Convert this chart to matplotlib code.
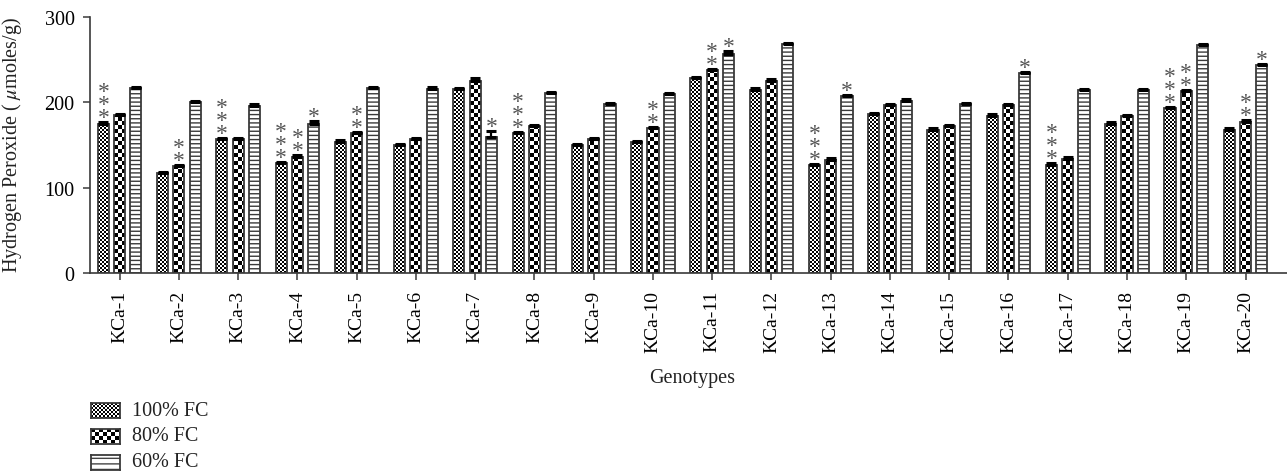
import numpy as np
import matplotlib
matplotlib.use("Agg")
import matplotlib.pyplot as plt
from matplotlib.path import Path
from matplotlib.patches import Rectangle

plt.rcParams['font.family'] = ['Liberation Serif', 'DejaVu Serif']
plt.rcParams['mathtext.fontset'] = 'stix'

# ---------------- data ----------------
genotypes = ["KCa-%d" % i for i in range(1, 21)]
series_labels = ["100% FC", "80% FC", "60% FC"]

fc100 = [175, 117, 157, 129, 154, 150, 215.5, 164, 150, 153,
         228, 215, 126, 186, 168, 184.5, 127, 175, 193.5, 168]
fc80 = [185, 125, 157, 136.5, 164, 157, 225, 172.5, 157, 170,
        238, 225.5, 133, 196.5, 172.5, 196.5, 134, 183.5, 213, 177.5]
fc60 = [216.5, 200, 196, 175, 216.5, 216, 159, 210.5, 198, 209.5,
        257, 268.5, 207, 202, 198, 234, 214.5, 214.5, 267, 243.5]

err100 = [1.5] * 20
err80 = [1.5, 1.5, 1.5, 1.5, 1.5, 1.5, 4, 1.5, 1.5, 1.5,
         1.5, 1.5, 1.5, 1.5, 1.5, 1.5, 1.5, 1.5, 1.5, 1.5]
err60 = [1.5, 1.5, 2.5, 3, 1.5, 1.5, 7, 1.5, 1.5, 1.5,
         3.5, 1.5, 2, 1.5, 1.5, 2, 1.5, 1.5, 1.5, 1.5]

stars100 = [3, 0, 3, 3, 0, 0, 0, 3, 0, 0, 0, 0, 3, 0, 0, 0, 3, 0, 3, 0]
stars80 = [0, 2, 0, 2, 2, 0, 0, 0, 0, 2, 2, 0, 0, 0, 0, 0, 0, 0, 2, 2]
stars60 = [0, 0, 0, 1, 0, 0, 1, 0, 0, 0, 1, 0, 1, 0, 0, 1, 0, 0, 0, 1]

# ---------------- figure ----------------
W, H = 1287, 477
fig = plt.figure(figsize=(W / 100, H / 100), dpi=100)
ax_l, ax_r, ax_b, ax_t = 90, 1287, 274, 18
ax = fig.add_axes([ax_l / W, 1 - ax_b / H, (ax_r - ax_l) / W, (ax_b - ax_t) / H])

x = np.arange(len(genotypes))
pitch = 0.275
width = 0.188
edge = '#3a3a3a'
xlim = (-0.5, 19.7)
ylim = (0, 300)
ax.set_xlim(*xlim)
ax.set_ylim(*ylim)

series = [fc100, fc80, fc60]
errs = [err100, err80, err60]
stars = [stars100, stars80, stars60]
cells = [2, 4, None]

axw_px = ax_r - ax_l
axh_px = ax_b - ax_t

for i, (vals, err, st, cell) in enumerate(zip(series, errs, stars, cells)):
    xs = x + (i - 1) * pitch
    hatch = '----' if cell is None else None
    bars = ax.bar(xs, vals, width, facecolor='none' if cell else 'white',
                  edgecolor=edge, linewidth=1.3, hatch=hatch, zorder=3)
    if cell:
        # checkerboard fill clipped to the bars
        yy, xx = np.mgrid[0:axh_px, 0:axw_px]
        img = ((yy // cell + xx // cell) % 2).astype(float)
        im = ax.imshow(img, extent=(xlim[0], xlim[1], ylim[0], ylim[1]),
                       cmap='gray', vmin=0, vmax=1, interpolation='nearest',
                       aspect='auto', origin='upper', zorder=2)
        paths = []
        for p in bars.patches:
            x0, y0, w, h = p.get_x(), p.get_y(), p.get_width(), p.get_height()
            paths.append(Path([(x0, y0), (x0 + w, y0), (x0 + w, y0 + h),
                               (x0, y0 + h), (x0, y0)],
                              [Path.MOVETO, Path.LINETO, Path.LINETO,
                               Path.LINETO, Path.CLOSEPOLY]))
        im.set_clip_path(Path.make_compound_path(*paths), ax.transData)
    ax.errorbar(xs, vals, yerr=[np.zeros(len(vals)), err], fmt='none',
                ecolor='black', elinewidth=1.6, capsize=3.5, capthick=2.2,
                zorder=4)
    for xi, v, e, n in zip(xs, vals, err, st):
        if n:
            ax.annotate("\n".join(['*'] * n), xy=(xi, v + e), xytext=(0, -1),
                        textcoords='offset pixels', ha='center', va='baseline',
                        fontsize=17, color='#555555', linespacing=0.5,
                        zorder=5)

ax.set_xticks(x)
ax.set_xticklabels(genotypes, rotation=90, fontsize=14)
ax.set_yticks([0, 100, 200, 300])
ax.tick_params(axis='y', labelsize=14.5, length=5, width=1.1, color=edge, pad=6)
ax.tick_params(axis='x', length=5, width=1.1, color=edge, pad=7)
for s in ['top', 'right']:
    ax.spines[s].set_visible(False)
for s in ['left', 'bottom']:
    ax.spines[s].set_color(edge)
    ax.spines[s].set_linewidth(1.2)

fig.text(12 / W, 1 - 145 / H, r"Hydrogen Peroxide ( $\mu$moles/g)",
         rotation=90, ha='center', va='center', fontsize=14.5, color='#222222')
fig.text(692 / W, 1 - 379 / H, "Genotypes", ha='center', va='center',
         fontsize=14.5, color='#222222')

# ---------------- legend ----------------
rows = [411, 437, 463]
for label, cell, yc in zip(series_labels, cells, rows):
    lax = fig.add_axes([91 / W, 1 - (yc + 7.5) / H, 29 / W, 15 / H])
    lax.set_xlim(0, 29)
    lax.set_ylim(0, 15)
    if cell:
        yy, xx = np.mgrid[0:15, 0:29]
        img = ((yy // cell + xx // cell) % 2).astype(float)
        lax.imshow(img, extent=(0, 29, 0, 15), cmap='gray', vmin=0, vmax=1,
                   interpolation='nearest', aspect='auto')
    else:
        lax.add_patch(Rectangle((0, 0), 29, 15, facecolor='white',
                                edgecolor='#444444', linewidth=0, hatch='---'))
    for s in lax.spines.values():
        s.set_color(edge)
        s.set_linewidth(1.3)
    lax.set_xticks([])
    lax.set_yticks([])
    fig.text(132 / W, 1 - yc / H, label, ha='left', va='center',
             fontsize=14.5, color='#222222')

fig.savefig("out.png", dpi=100)
